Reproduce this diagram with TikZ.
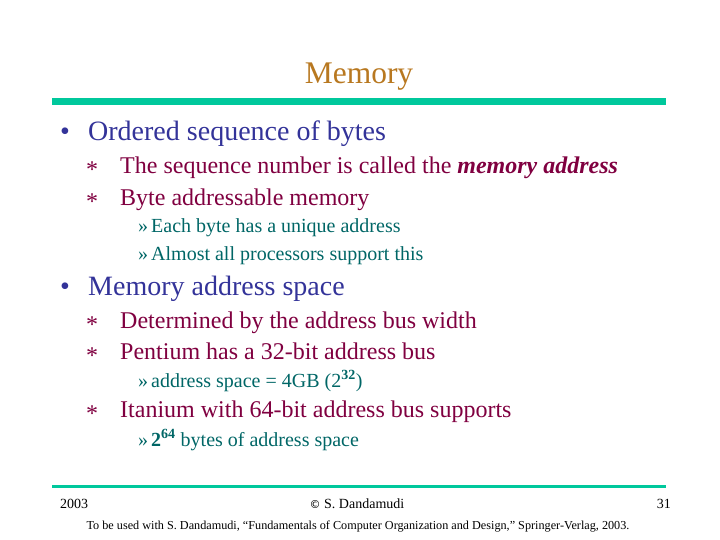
\documentclass[tikz,border=0pt]{standalone}
\usepackage{fontspec}
\setmainfont{Liberation Serif}
\newfontfamily\djvfont{DejaVu Sans}
\definecolor{titlec}{HTML}{B87820}
\definecolor{lone}{HTML}{333399}
\definecolor{ltwo}{HTML}{800040}
\definecolor{lthree}{HTML}{006666}
\definecolor{barc}{HTML}{00C89C}
\begin{document}
\begin{tikzpicture}[x=1pt,y=-1pt,
  every node/.style={inner sep=0pt,anchor=base west},
  lvone/.style={font=\fontsize{28}{32}\selectfont,text=lone},
  lvtwo/.style={font=\fontsize{24}{28}\selectfont,text=ltwo},
  lvthree/.style={font=\fontsize{20}{24}\selectfont,text=lthree},
  foot/.style={font=\fontsize{14}{16}\selectfont,text=black}]
\useasboundingbox (0,0) rectangle (720,540);
\node[font=\fontsize{31.5}{34}\selectfont,text=titlec,anchor=base] (title) at (359,84) {Memory};
\fill[barc] (52,98) rectangle (666,105);
\node[lvone] (b1) at (60,141) {\textbullet};
\node[lvone] (t1) at (88,141) {Ordered sequence of bytes};
\node[lvtwo] (s1) at (86,178) {*};
\node[lvtwo] (t2) at (120,174) {The sequence number is called the \textbf{\textit{memory address}}};
\node[lvtwo] (s2) at (86,210) {*};
\node[lvtwo] (t3) at (120,206) {Byte addressable memory};
\node[lvthree] (r1) at (138,233) {»};
\node[lvthree] (t4) at (151,233) {Each byte has a unique address};
\node[lvthree] (r2) at (138,260) {»};
\node[lvthree] (t5) at (151,260) {Almost all processors support this};
\node[lvone] (b2) at (60,295) {\textbullet};
\node[lvone] (t6) at (88,295) {Memory address space};
\node[lvtwo] (s3) at (86,332) {*};
\node[lvtwo] (t7) at (120,328) {Determined by the address bus width};
\node[lvtwo] (s4) at (86,363) {*};
\node[lvtwo] (t8) at (120,359) {Pentium has a 32-bit address bus};
\node[lvthree] (r3) at (138,387) {»};
\node[lvthree] (t9) at (151,387) {address space = 4GB (2\textsuperscript{\textbf{32}})};
\node[lvtwo] (s5) at (86,421) {*};
\node[lvtwo] (t10) at (120,417) {Itanium with 64-bit address bus supports};
\node[lvthree] (r4) at (138,446) {»};
\node[lvthree] (t11) at (151,446) {\textbf{2\textsuperscript{64}} bytes of address space};
\fill[barc] (52,484.5) rectangle (666,487.5);
\node[foot] (f1) at (60,508) {2003};
\node[foot,anchor=base] (f2) at (357,508) {{\djvfont\fontsize{11}{12}\selectfont ©} S. Dandamudi};
\node[foot,anchor=base east] (f3) at (671,508) {31};
\node[foot,anchor=base,font=\fontsize{12.2}{14}\selectfont] (f4) at (358,529) {To be used with S. Dandamudi, “Fundamentals of Computer Organization and Design,” Springer-Verlag, 2003.};
\end{tikzpicture}
\end{document}
